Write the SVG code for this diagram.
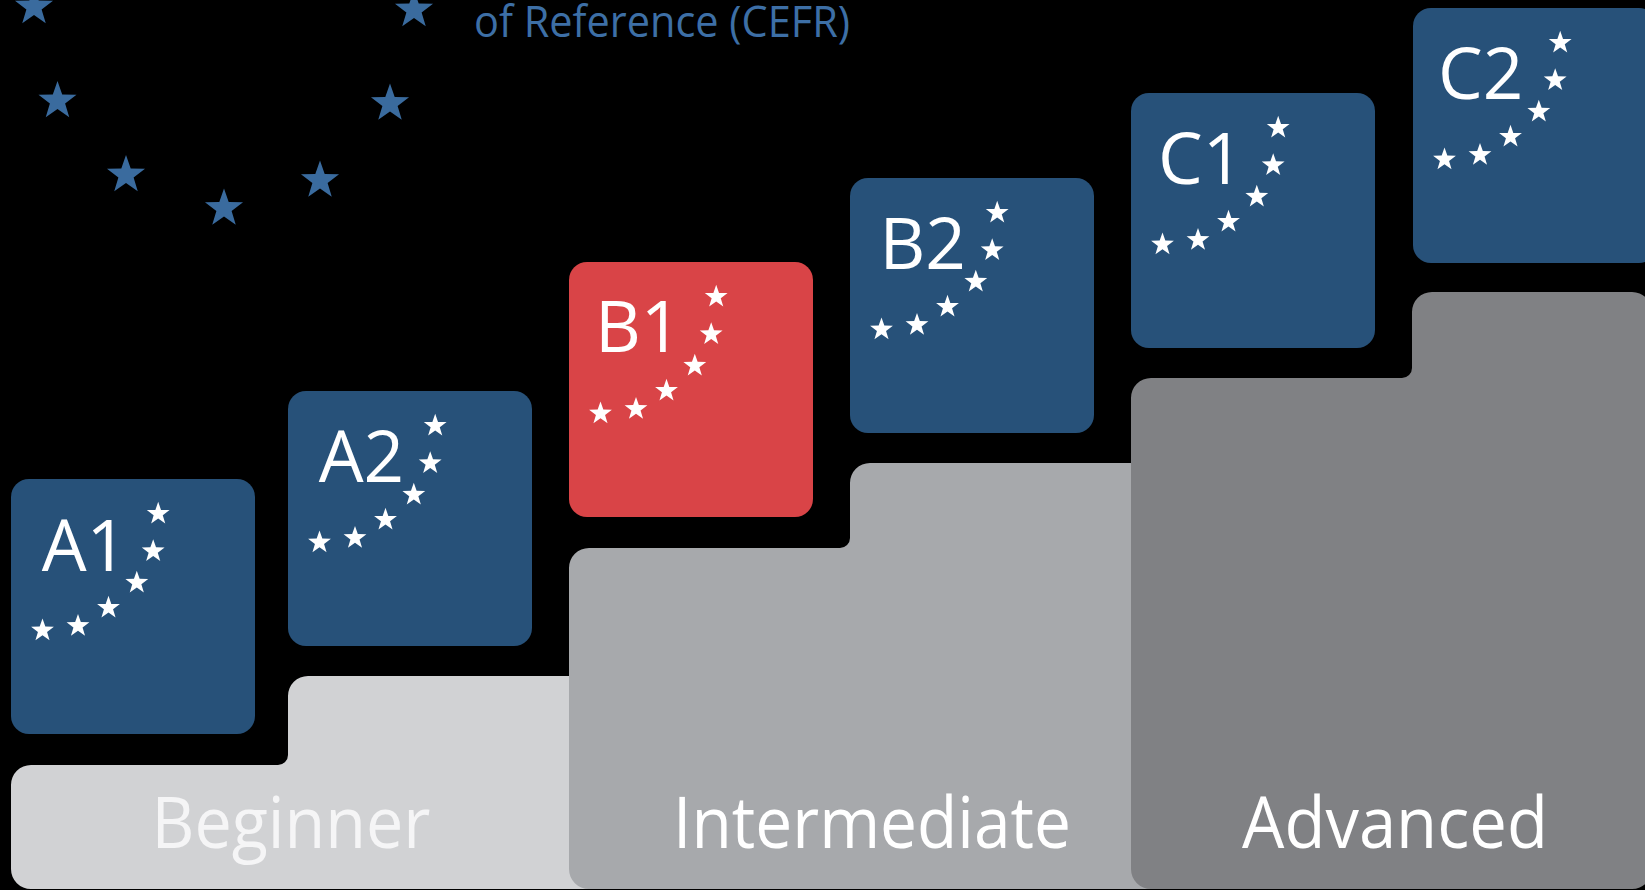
<svg xmlns="http://www.w3.org/2000/svg" xmlns:xlink="http://www.w3.org/1999/xlink" width="1645" height="890" viewBox="0 0 1645 890">
  <style>
    .box-blue { fill: #275179; }
    .box-red { fill: #d94447; }
    .lvl { font-family: "Open Sans", "Noto Sans", "DejaVu Sans", sans-serif; font-size: 71px; fill: #ffffff; }
    .plat-label { font-family: "Open Sans", "Noto Sans", "DejaVu Sans", sans-serif; font-size: 72px; fill: #ffffff; text-anchor: middle; }
    .title { font-family: "Open Sans", "Noto Sans", "DejaVu Sans", sans-serif; font-size: 44px; fill: #3d6fa6; }
    .wstar { fill: #ffffff; }
    .bstar { fill: #3a6b9e; }
  </style>
  <defs>
    <polygon id="star" points="0,-10 2.351,-3.236 9.511,-3.09 3.804,1.236 5.878,8.09 0,4 -5.878,8.09 -3.804,1.236 -9.511,-3.09 -2.351,-3.236"/>
    <g id="starArc" class="wstar">
      <use xlink:href="#star" href="#star" transform="translate(31.5,151.5) scale(1.2)"/>
      <use xlink:href="#star" href="#star" transform="translate(67,147) scale(1.2)"/>
      <use xlink:href="#star" href="#star" transform="translate(97.5,128.8) scale(1.2)"/>
      <use xlink:href="#star" href="#star" transform="translate(125.8,103.7) scale(1.2)"/>
      <use xlink:href="#star" href="#star" transform="translate(142.2,72.2) scale(1.2)"/>
      <use xlink:href="#star" href="#star" transform="translate(147.2,34.8) scale(1.2)"/>
    </g>
  </defs>

  <rect x="0" y="0" width="1645" height="890" fill="#000000"/>

  <g id="eu-stars" class="bstar">
    <use xlink:href="#star" href="#star" transform="translate(34,7) scale(2)"/>
    <use xlink:href="#star" href="#star" transform="translate(414,10) scale(2)"/>
    <use xlink:href="#star" href="#star" transform="translate(57.5,101) scale(2)"/>
    <use xlink:href="#star" href="#star" transform="translate(390,103.5) scale(2)"/>
    <use xlink:href="#star" href="#star" transform="translate(126,175) scale(2)"/>
    <use xlink:href="#star" href="#star" transform="translate(320,180.5) scale(2)"/>
    <use xlink:href="#star" href="#star" transform="translate(224,208.5) scale(2)"/>
  </g>

  <g id="title">
    <text class="title" x="474" y="37" textLength="376" lengthAdjust="spacingAndGlyphs">of Reference (CEFR)</text>
  </g>

  <g id="platform-beginner">
    <path fill="#d1d2d4" d="M11,785 A20,20 0 0 1 31,765 L278,765 A10,10 0 0 0 288,755 L288,696 A20,20 0 0 1 308,676 L640,676 L640,889 L31,889 A20,20 0 0 1 11,869 Z"/>
    <text class="plat-label" x="291" y="848" textLength="279" lengthAdjust="spacingAndGlyphs" style="fill:#f5f5f6">Beginner</text>
  </g>

  <g id="platform-intermediate">
    <path fill="#a7a9ac" d="M569,568 A20,20 0 0 1 589,548 L840,548 A10,10 0 0 0 850,538 L850,483 A20,20 0 0 1 870,463 L1180,463 L1180,889 L589,889 A20,20 0 0 1 569,869 Z"/>
    <text class="plat-label" x="872" y="848" textLength="398" lengthAdjust="spacingAndGlyphs">Intermediate</text>
  </g>

  <g id="platform-advanced">
    <path fill="#808184" d="M1131,398 A20,20 0 0 1 1151,378 L1402,378 A10,10 0 0 0 1412,368 L1412,312 A20,20 0 0 1 1432,292 L1632,292 A20,20 0 0 1 1652,312 L1652,869 A20,20 0 0 1 1632,889 L1151,889 A20,20 0 0 1 1131,869 Z"/>
    <text class="plat-label" x="1395" y="848" textLength="306" lengthAdjust="spacingAndGlyphs">Advanced</text>
  </g>

  <g id="level-A1">
    <rect class="box-blue" x="11" y="479" width="244" height="255" rx="18"/>
    <use xlink:href="#starArc" href="#starArc" transform="translate(11,479)"/>
    <text class="lvl" x="41.7" y="571">A1</text>
  </g>

  <g id="level-A2">
    <rect class="box-blue" x="288" y="391" width="244" height="255" rx="18"/>
    <use xlink:href="#starArc" href="#starArc" transform="translate(288,391)"/>
    <text class="lvl" x="318.7" y="482">A2</text>
  </g>

  <g id="level-B1">
    <rect class="box-red" x="569" y="262" width="244" height="255" rx="18"/>
    <use xlink:href="#starArc" href="#starArc" transform="translate(569,262)"/>
    <text class="lvl" x="595" y="352">B1</text>
  </g>

  <g id="level-B2">
    <rect class="box-blue" x="850" y="178" width="244" height="255" rx="18"/>
    <use xlink:href="#starArc" href="#starArc" transform="translate(850,178)"/>
    <text class="lvl" x="879.5" y="269">B2</text>
  </g>

  <g id="level-C1">
    <rect class="box-blue" x="1131" y="93" width="244" height="255" rx="18"/>
    <use xlink:href="#starArc" href="#starArc" transform="translate(1131,93)"/>
    <text class="lvl" x="1158" y="184">C1</text>
  </g>

  <g id="level-C2">
    <rect class="box-blue" x="1413" y="8" width="244" height="255" rx="18"/>
    <use xlink:href="#starArc" href="#starArc" transform="translate(1413,8)"/>
    <text class="lvl" x="1438" y="99">C2</text>
  </g>
</svg>
